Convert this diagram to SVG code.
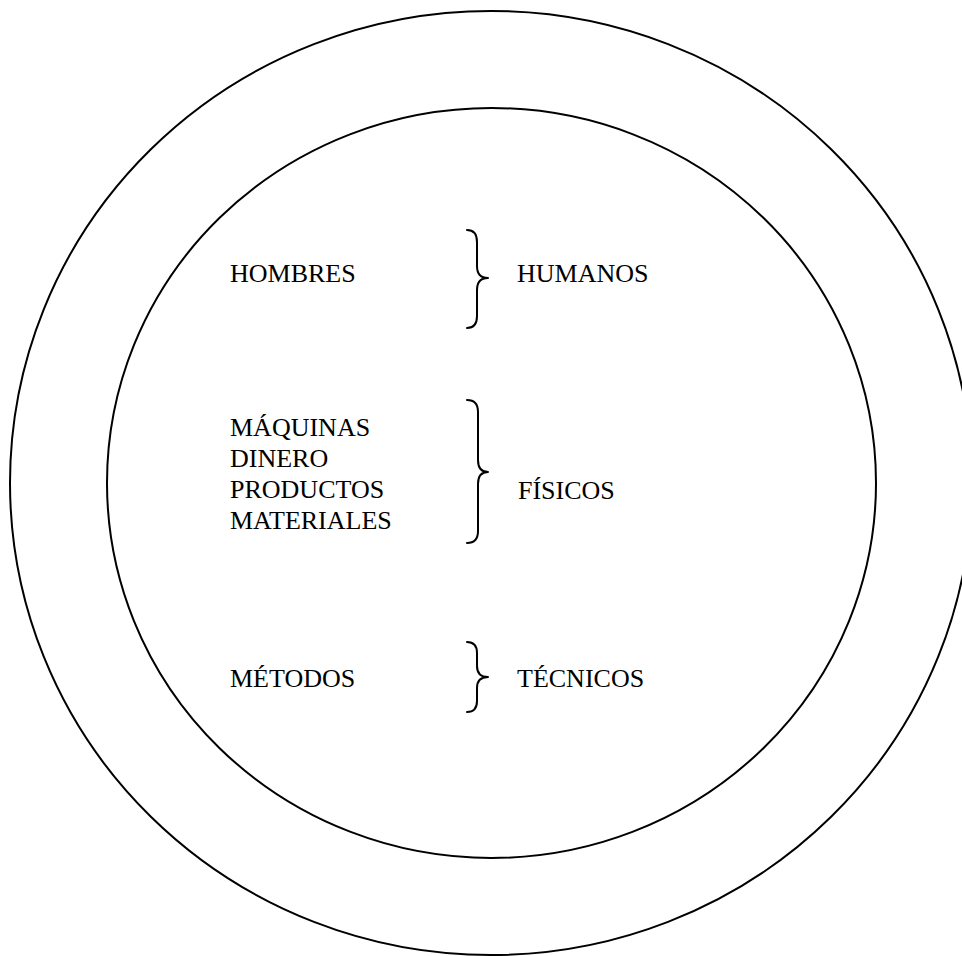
<svg xmlns="http://www.w3.org/2000/svg" width="962" height="956" viewBox="0 0 962 956">
<style>
.ring{fill:none;stroke:#000;stroke-width:2}
.br{fill:none;stroke:#000;stroke-width:2;stroke-linecap:round;stroke-linejoin:round}
text{font-family:"Liberation Serif","Times New Roman",serif;font-size:26px;fill:#000}
</style>
<rect width="962" height="956" fill="#fff"/>
<g id="outer"><ellipse class="ring" cx="491" cy="483" rx="481" ry="472"/></g>
<g id="inner"><ellipse class="ring" cx="491.5" cy="483" rx="384.5" ry="375"/></g>
<g id="humanos">
<text x="230" y="282">HOMBRES</text>
<path class="br" d="M467,230 Q477,230 477,242 L477,266 Q477,278 488,278 Q477,278 477,290 L477,316 Q477,328 467,328"/>
<text x="517" y="282">HUMANOS</text>
</g>
<g id="fisicos">
<text x="230" y="436">MÁQUINAS</text>
<text x="230" y="467">DINERO</text>
<text x="230" y="498">PRODUCTOS</text>
<text x="230" y="529">MATERIALES</text>
<path class="br" d="M467,400 Q478,400 478,412 L478,460 Q478,472 488,472 Q478,472 478,484 L478,531 Q478,543 467,543"/>
<text x="518" y="499">FÍSICOS</text>
</g>
<g id="tecnicos">
<text x="230" y="687">MÉTODOS</text>
<path class="br" d="M467,642 Q477,642 477,653 L477,666 Q477,677 488,677 Q477,677 477,688 L477,701 Q477,712 467,712"/>
<text x="517" y="687">TÉCNICOS</text>
</g>
</svg>
